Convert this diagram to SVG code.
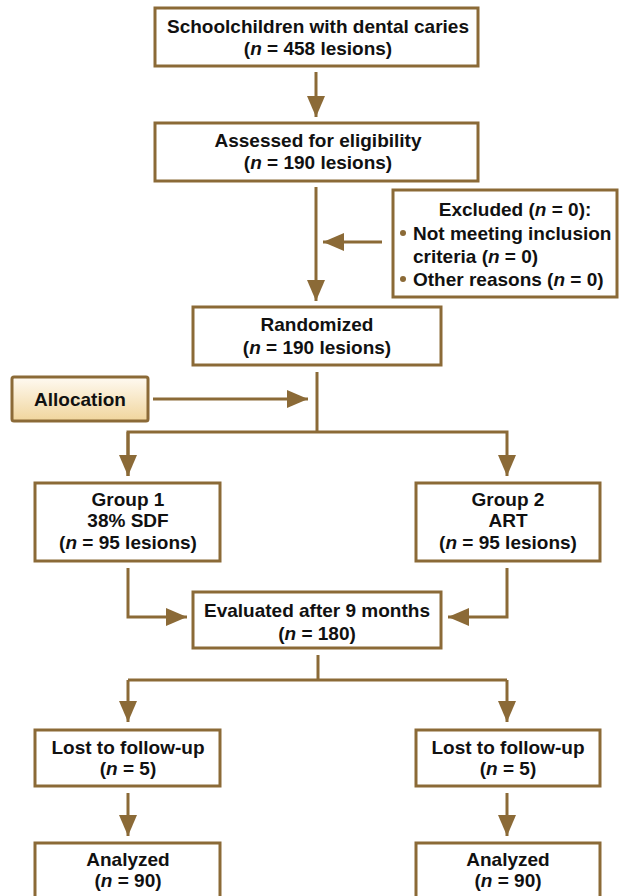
<svg xmlns="http://www.w3.org/2000/svg" width="619" height="896" viewBox="0 0 619 896">
<defs>
<style>
.box{fill:#fff;stroke:#8b6a37;stroke-width:3}
.ln{fill:none;stroke:#8b6a37;stroke-width:3}
.t{font-family:"Liberation Sans",Arial,sans-serif;font-weight:bold;font-size:19px;fill:#111;text-anchor:middle}
.s{text-anchor:start}
.dot{fill:#8b6a37}
</style>
<linearGradient id="gAlloc" x1="0" y1="0" x2="0" y2="1">
<stop offset="0" stop-color="#fffaf2"/>
<stop offset="1" stop-color="#f0d59c"/>
</linearGradient>
<marker id="ah" viewBox="0 0 21 18" refX="21" refY="9" markerWidth="21" markerHeight="18" markerUnits="userSpaceOnUse" orient="auto">
<path d="M0,0 L21,9 L0,18 Z" fill="#8b6a37"/>
</marker>
</defs>
<rect width="619" height="896" fill="#fff"/>
<g id="connectors">
<line class="ln" x1="316" y1="72" x2="316" y2="117" marker-end="url(#ah)"/>
<line class="ln" x1="316" y1="187" x2="316" y2="301" marker-end="url(#ah)"/>
<line class="ln" x1="382" y1="242" x2="323" y2="242" marker-end="url(#ah)"/>
<line class="ln" x1="153" y1="399" x2="308" y2="399" marker-end="url(#ah)"/>
<polyline class="ln" points="317,372 317,432"/>
<polyline class="ln" points="128,476 128,432 507,432 507,476" marker-end="url(#ah)"/>
<line class="ln" x1="128" y1="432" x2="128" y2="476" marker-end="url(#ah)"/>
<polyline class="ln" points="128,568 128,617 187,617" marker-end="url(#ah)"/>
<polyline class="ln" points="507,568 507,617 448,617" marker-end="url(#ah)"/>
<polyline class="ln" points="318,655 318,680"/>
<polyline class="ln" points="128,680 507,680"/>
<line class="ln" x1="128" y1="680" x2="128" y2="722" marker-end="url(#ah)"/>
<line class="ln" x1="507" y1="680" x2="507" y2="722" marker-end="url(#ah)"/>
<line class="ln" x1="128" y1="793" x2="128" y2="836" marker-end="url(#ah)"/>
<line class="ln" x1="507" y1="793" x2="507" y2="836" marker-end="url(#ah)"/>
</g>
<g id="n1"><rect class="box" x="155" y="8" width="323" height="58"/>
<text class="t" x="318" y="33">Schoolchildren with dental caries</text>
<text class="t" x="318" y="55">(<tspan font-style="italic">n</tspan> = 458 lesions)</text></g>
<g id="n2"><rect class="box" x="155" y="123" width="323" height="58"/>
<text class="t" x="318" y="147">Assessed for eligibility</text>
<text class="t" x="318" y="169">(<tspan font-style="italic">n</tspan> = 190 lesions)</text></g>
<g id="excluded"><rect class="box" x="393" y="190" width="224" height="107"/>
<text class="t" x="515" y="216">Excluded (<tspan font-style="italic">n</tspan> = 0):</text>
<circle class="dot" cx="403" cy="233" r="3"/>
<text class="t s" x="413" y="240">Not meeting inclusion</text>
<text class="t s" x="413" y="263">criteria (<tspan font-style="italic">n</tspan> = 0)</text>
<circle class="dot" cx="403" cy="279" r="3"/>
<text class="t s" x="413" y="286">Other reasons (<tspan font-style="italic">n</tspan> = 0)</text></g>
<g id="randomized"><rect class="box" x="193" y="307" width="248" height="58"/>
<text class="t" x="317" y="331">Randomized</text>
<text class="t" x="317" y="354">(<tspan font-style="italic">n</tspan> = 190 lesions)</text></g>
<g id="allocation"><rect x="12" y="377" width="136" height="44" rx="2" fill="url(#gAlloc)" stroke="#8b6a37" stroke-width="3"/>
<text class="t" x="80" y="406">Allocation</text></g>
<g id="group1"><rect class="box" x="35" y="483" width="185" height="78"/>
<text class="t" x="128" y="506">Group 1</text>
<text class="t" x="128" y="527">38% SDF</text>
<text class="t" x="128" y="549">(<tspan font-style="italic">n</tspan> = 95 lesions)</text></g>
<g id="group2"><rect class="box" x="416" y="483" width="184" height="78"/>
<text class="t" x="508" y="506">Group 2</text>
<text class="t" x="508" y="527">ART</text>
<text class="t" x="508" y="549">(<tspan font-style="italic">n</tspan> = 95 lesions)</text></g>
<g id="evaluated"><rect class="box" x="193" y="592" width="248" height="56"/>
<text class="t" x="317" y="617">Evaluated after 9 months</text>
<text class="t" x="317" y="640">(<tspan font-style="italic">n</tspan> = 180)</text></g>
<g id="lost1"><rect class="box" x="35" y="730" width="185" height="56"/>
<text class="t" x="128" y="754">Lost to follow-up</text>
<text class="t" x="128" y="775">(<tspan font-style="italic">n</tspan> = 5)</text></g>
<g id="lost2"><rect class="box" x="416" y="730" width="184" height="56"/>
<text class="t" x="508" y="754">Lost to follow-up</text>
<text class="t" x="508" y="775">(<tspan font-style="italic">n</tspan> = 5)</text></g>
<g id="analyzed1"><rect class="box" x="35" y="843" width="185" height="60"/>
<text class="t" x="128" y="866">Analyzed</text>
<text class="t" x="128" y="887">(<tspan font-style="italic">n</tspan> = 90)</text></g>
<g id="analyzed2"><rect class="box" x="416" y="843" width="184" height="60"/>
<text class="t" x="508" y="866">Analyzed</text>
<text class="t" x="508" y="887">(<tspan font-style="italic">n</tspan> = 90)</text></g>
</svg>
